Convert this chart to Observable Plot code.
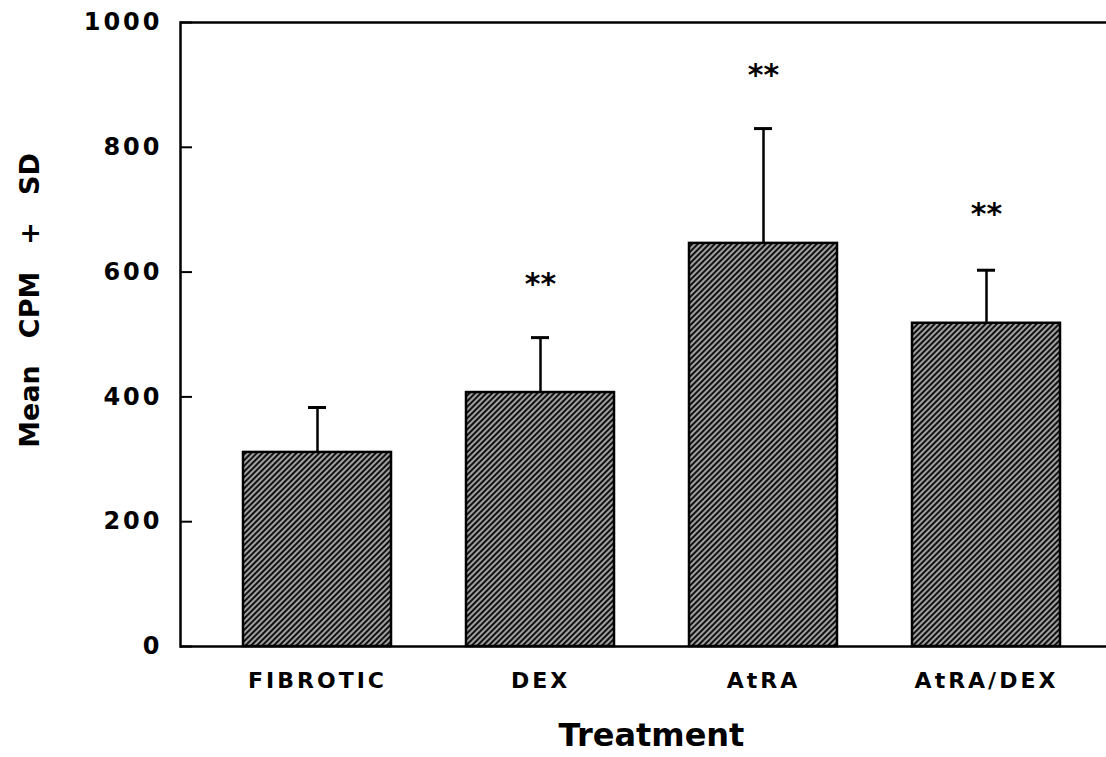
<!DOCTYPE html>
<html>
<head>
<meta charset="utf-8">
<script src="https://cdn.jsdelivr.net/npm/d3@7"></script>
<script src="https://cdn.jsdelivr.net/npm/@observablehq/plot@0.6"></script>
<style>
  html, body { margin: 0; padding: 0; background: #fff; }
  #chart svg { display: block; }
  g[aria-label="y-axis tick label"] text { letter-spacing: 3px; }
  g[aria-label="x-axis tick label"] text { letter-spacing: 3px; }
</style>
</head>
<body>
<svg width="0" height="0" style="position:absolute">
  <defs>
    <pattern id="hatch" patternUnits="userSpaceOnUse" width="4" height="4" patternTransform="rotate(-45)">
      <rect width="4" height="4" fill="#fff"></rect>
      <line x1="0" y1="2" x2="4" y2="2" stroke="#111" stroke-width="2.8"></line>
    </pattern>
  </defs>
</svg>
<div id="chart"></div>
<script>
const categories = ["FIBROTIC", "DEX", "AtRA", "AtRA/DEX"];
const means = [311, 407, 646, 518];
const sds = [72, 88, 184, 85];
const sigLabels = ["", "**", "**", "**"];
const sigY = [null, 587, 921, 699];
const yTicks = [0, 200, 400, 600, 800, 1000];
const yLabel = "Mean\u2003CPM\u2003+\u2003SD";
const xLabel = "Treatment";

const data = categories.map((c, i) => ({cat: c, mean: means[i], top: means[i] + sds[i], sig: sigLabels[i], sigY: sigY[i]}));
const sigData = data.filter(d => d.sig);

const chart = Plot.plot({
  width: 1106,
  height: 757,
  marginLeft: 180,
  marginRight: 0,
  marginTop: 22,
  marginBottom: 111,
  style: {fontFamily: "DejaVu Sans", fontWeight: "bold", background: "#fff", color: "#000"},
  x: {domain: categories, paddingInner: 0.336, paddingOuter: 0.244, align: 0.578, label: null},
  y: {domain: [0, 1000], label: null},
  marks: [
    Plot.ruleX(data, {x: "cat", y1: "mean", y2: "top", stroke: "#000", strokeWidth: 2.5}),
    Plot.tickY(data, {x: "cat", y: "top", stroke: "#000", strokeWidth: 3, insetLeft: 65, insetRight: 65}),
    Plot.barY(data, {x: "cat", y: "mean", fill: "url(#hatch)", stroke: "#000", strokeWidth: 2.5}),
    Plot.ruleY([0, 1000], {stroke: "#000", strokeWidth: 2.5}),
    Plot.frame({anchor: "left", stroke: "#000", strokeWidth: 2.5}),
    Plot.axisY({ticks: yTicks, tickFormat: d => String(d), tickSize: -12, tickPadding: 30, strokeWidth: 2, fontSize: 24, label: null}),
    Plot.axisX({tickSize: 0, tickPadding: 26, fontSize: 22, label: null}),
    Plot.text(sigData, {x: "cat", y: "sigY", text: "sig", fontSize: 30, dy: 4, fill: "#000"}),
    Plot.text([yLabel], {frameAnchor: "left", textAnchor: "middle", rotate: -90, dx: -150, dy: -34, fontSize: 27, fill: "#000"}),
    Plot.text([xLabel], {frameAnchor: "bottom", dx: 8, dy: 99, fontSize: 32, fill: "#000"})
  ]
});
document.getElementById("chart").appendChild(chart);
</script>
</body>
</html>
